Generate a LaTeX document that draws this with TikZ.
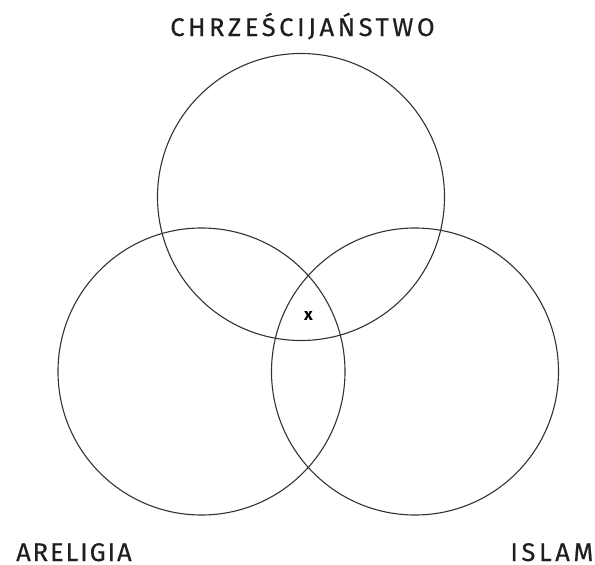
\documentclass[tikz,border=0pt]{standalone}
\usepackage{fontspec}
\setmainfont{Fira Sans}
\newfontfamily\labfont[LetterSpace=14,FakeBold=0.5]{Fira Sans}
\newfontfamily\labfontn[LetterSpace=7.5,FakeBold=0.5]{Fira Sans}
\begin{document}
\begin{tikzpicture}[x=1pt,y=-1pt,
  ring/.style={draw=black!80,line width=1.1pt},
  lab/.style={inner sep=0pt,anchor=base,text depth=0pt,font=\labfont\fontsize{25.5}{25.5}\selectfont,text=black!88}]
\useasboundingbox (0,0) rectangle (595,565);
\draw[ring] (301,197) circle (143.5);
\draw[ring] (201.5,371.5) circle (143.5);
\draw[ring] (415,371.5) circle (143.5);
\node[lab] (chr) at (302.5,36) {CHRZEŚCIJAŃSTWO};
\node[lab,anchor=base west,font=\labfontn\fontsize{25.5}{25.5}\selectfont] (are) at (16,561) {ARELIGIA};
\node[lab,anchor=base east] (isl) at (593.5,561) {ISLAM};
\node[inner sep=0pt,font=\bfseries\fontsize{17}{17}\selectfont] (x) at (308.5,315.5) {x};
\end{tikzpicture}
\end{document}
